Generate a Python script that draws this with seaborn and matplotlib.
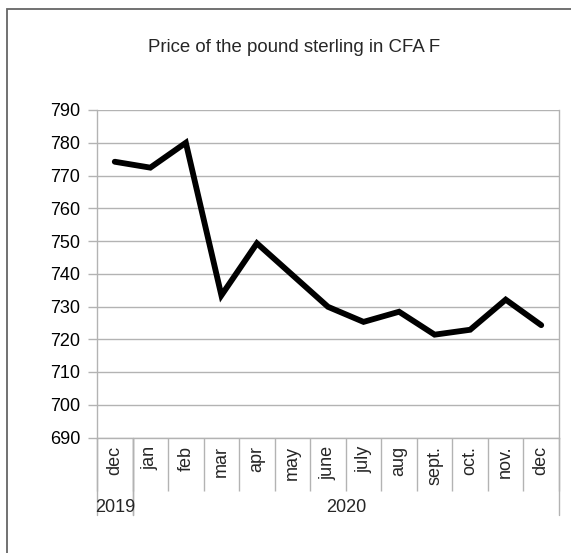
import numpy as np
import pandas as pd
import matplotlib
matplotlib.use("Agg")
import matplotlib.pyplot as plt
import matplotlib.transforms as mtransforms
from matplotlib.patches import Rectangle
import seaborn as sns

# data
months = ['dec', 'jan', 'feb', 'mar', 'apr', 'may', 'june', 'july',
          'aug', 'sept.', 'oct.', 'nov.', 'dec']
years = ['2019', '2020']
year_spans = [(0, 1), (1, 13)]  # month index range covered by each year
prices = [774.2, 772.4, 780.0, 733.4, 749.3, 739.6, 729.9, 725.3,
          728.4, 721.4, 722.9, 732.1, 724.3]
yticks = list(range(690, 791, 10))

df = pd.DataFrame({'pos': np.arange(len(months)), 'price': prices})

sns.set_style('white')
plt.rcParams['font.family'] = ['Liberation Sans', 'DejaVu Sans']

W, H = 571, 553
fig = plt.figure(figsize=(W / 100, H / 100), dpi=100)
ax = fig.add_axes([97 / W, 1 - 437.5 / H, (559 - 97) / W, (437.5 - 110) / H])

grid_col = '#b3b3b3'
fs = 13

sns.lineplot(data=df, x='pos', y='price', ax=ax, color='black',
             linewidth=4.2, solid_joinstyle='miter')

ax.set_xlim(-0.5, len(months) - 0.5)
ax.set_ylim(690, 790)
ax.set_yticks(yticks)
ax.yaxis.grid(True, color=grid_col, linewidth=1)
ax.set_axisbelow(True)
ax.set_xlabel('')
ax.set_ylabel('')

for side in ['left', 'bottom', 'right']:
    ax.spines[side].set_color(grid_col)
    ax.spines[side].set_linewidth(1)
ax.spines['top'].set_visible(False)

ax.tick_params(axis='y', left=True, length=6.5, width=1, color=grid_col,
               labelsize=fs, labelcolor='black', pad=5.5)

# month labels at centres, separators at boundaries
ax.set_xticks(np.arange(len(months)))
ax.set_xticklabels(months, rotation=90, va='top', ha='center', fontsize=fs)
ax.tick_params(axis='x', which='major', bottom=True, length=0, pad=6)
ax.set_xticks(np.arange(len(months) + 1) - 0.5, minor=True)
ax.tick_params(axis='x', which='minor', bottom=True, length=38, width=1,
               color=grid_col)

# year group separators and labels
trans = mtransforms.blended_transform_factory(ax.transData, ax.transAxes)
for yr, (a, b) in zip(years, year_spans):
    for edge in (a - 0.5, b - 0.5):
        ax.plot([edge, edge], [0, -77 / 327.5], transform=trans,
                color=grid_col, linewidth=1, clip_on=False)
    ax.text((a + b - 1) / 2, -61 / 327.5, yr, transform=trans, ha='center',
            va='top', fontsize=fs)

fig.text(294 / W, 1 - 48 / H, 'Price of the pound sterling in CFA F',
         ha='center', va='center', fontsize=13.4)

fig.patches.append(Rectangle((7.3 / W, -0.1), 2, 1.1 - 8.7 / H,
                             transform=fig.transFigure, fill=False,
                             edgecolor='#666666', linewidth=1.3))

fig.savefig('out.png', dpi=100)
